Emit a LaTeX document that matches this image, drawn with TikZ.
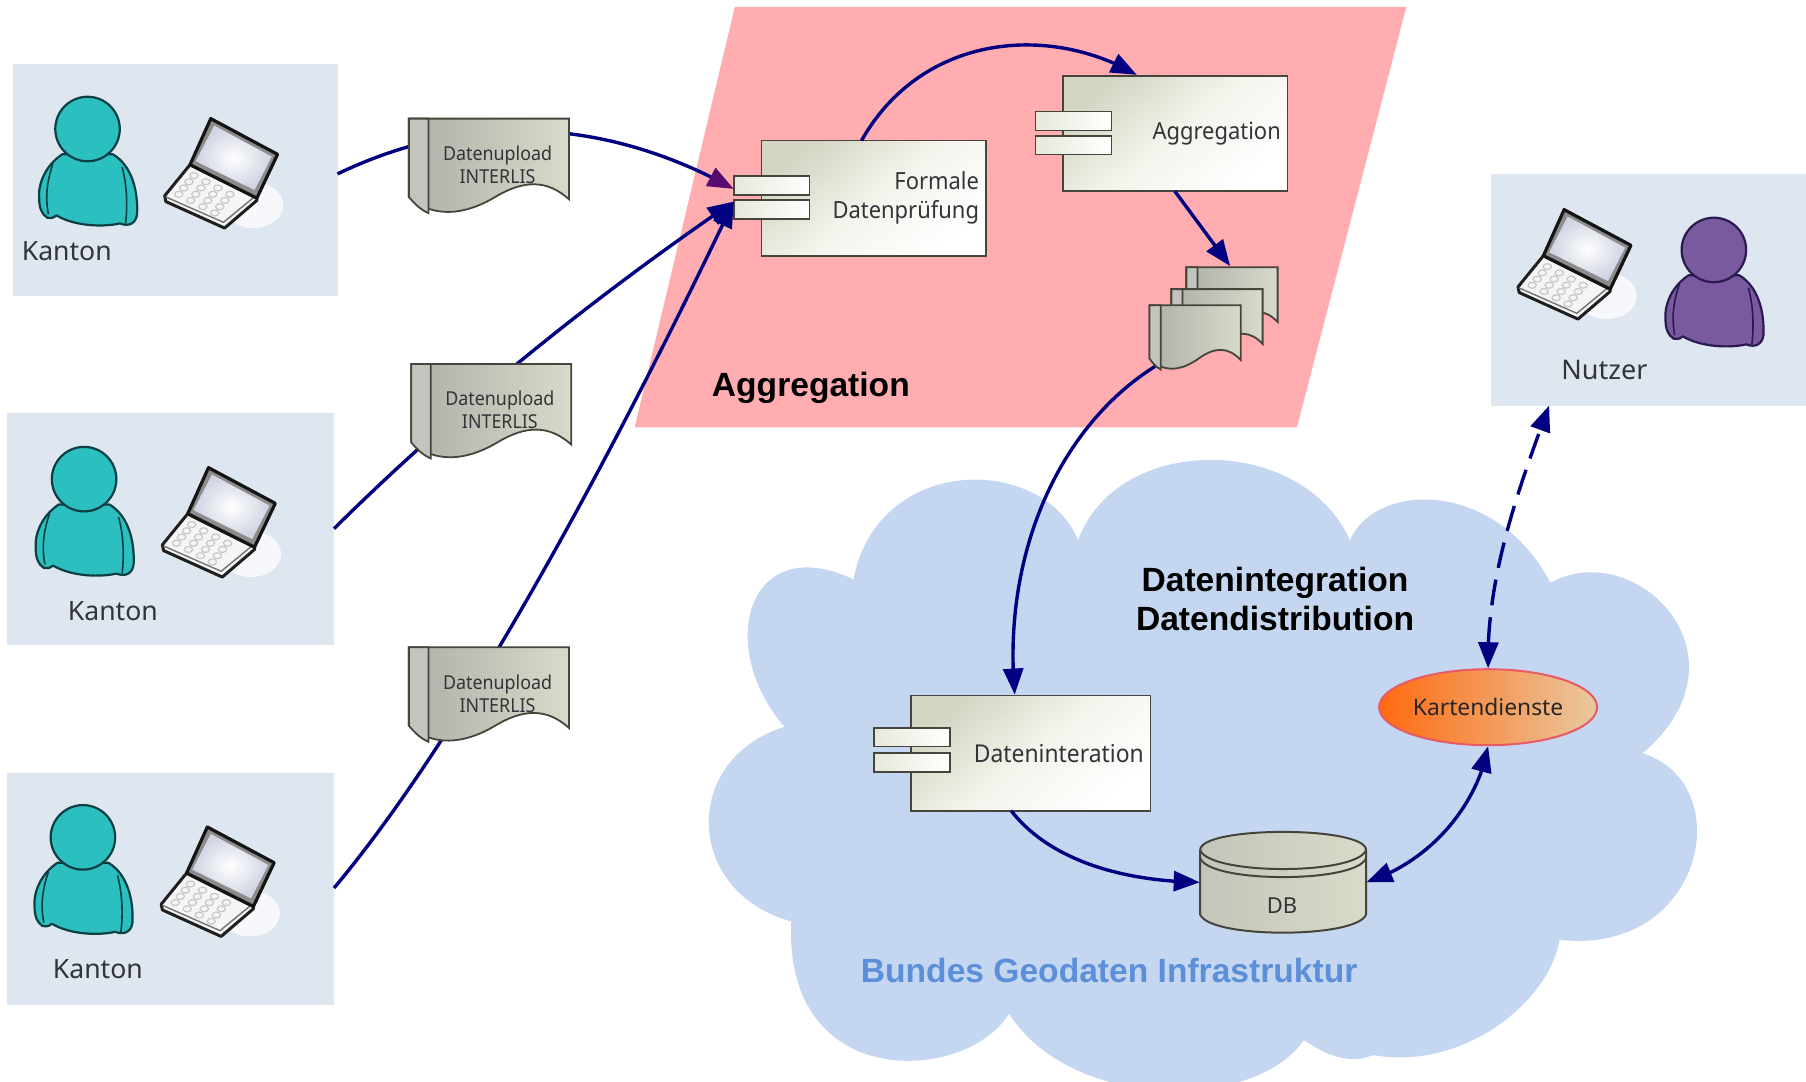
\documentclass[tikz,border=0pt]{standalone}
\usepackage{fontspec}
\setmainfont{Noto Sans}
\newfontfamily\condfont{Noto Sans}[FakeStretch=0.93]
\newfontfamily\boldhead{Liberation Sans}[Ligatures=TeX]
\usetikzlibrary{arrows.meta,shapes.geometric,bending}
\definecolor{navyline}{HTML}{000080}
\definecolor{boxblue}{HTML}{DEE6F0}
\definecolor{pinkarea}{HTML}{FFADB0}
\definecolor{cloudblue}{HTML}{C5D6F0}
\definecolor{edgegrey}{HTML}{45453C}
\definecolor{textgrey}{HTML}{333338}
\definecolor{compshade}{HTML}{D2D6C2}
\definecolor{compmid}{HTML}{F3F4EC}
\definecolor{portshade}{HTML}{E6E8DA}
\definecolor{screenblue}{HTML}{CFD3E2}
\definecolor{docdark}{HTML}{AEAFA8}
\definecolor{doclight}{HTML}{D8DACA}
\definecolor{docspine}{HTML}{C4C4BE}
\definecolor{dbdark}{HTML}{C4C5BA}
\definecolor{dblight}{HTML}{D9DBC8}
\definecolor{kaedge}{HTML}{E85A66}
\definecolor{kaleft}{HTML}{FF6A10}
\definecolor{karight}{HTML}{E9C8A0}
\definecolor{geoblue}{HTML}{5B8FD9}
\definecolor{purpletip}{HTML}{580A70}
\definecolor{tealfill}{HTML}{2CBFC0}
\definecolor{tealedge}{HTML}{0B3F44}
\definecolor{violetfill}{HTML}{7A5A9E}
\definecolor{violetedge}{HTML}{2A1A50}
\tikzset{
  area/.style={fill=boxblue,draw=none,inner sep=0pt,minimum height=116pt},
  lab/.style={text=textgrey,font=\fontsize{13.3}{15}\selectfont,inner sep=0pt},
  doclab/.style={text=textgrey,font=\condfont\fontsize{9.6}{11.5}\selectfont,align=center,inner sep=0pt},
  complab/.style={text=textgrey,font=\condfont\fontsize{11.8}{14.4}\selectfont,align=right,
    draw=edgegrey,line width=.8pt,top color=compshade,bottom color=white,middle color=compmid,shading angle=40,
    inner xsep=3.4pt,inner ysep=0pt,minimum height=57.6pt},
  port/.style={draw=edgegrey,line width=.8pt,left color=portshade,right color=white,
    minimum width=38pt,minimum height=9.4pt,inner sep=0pt},
  headlab/.style={font=\boldhead\bfseries\fontsize{16.8}{19.6}\selectfont,text=black,align=center,inner sep=0pt},
  conn/.style={draw=navyline,line width=1.7pt,-{Triangle[length=13pt,width=10pt,flex]}},
  conntwo/.style={draw=navyline,line width=1.7pt,{Triangle[length=13pt,width=10pt,flex]}-{Triangle[length=13pt,width=10pt,flex]}},
  pics/person/.style n args={2}{code={
    \path[fill=#1,draw=#2,line width=1.1pt,line join=round]
      (-22,22) .. controls (-37,32) and (-43,48) .. (-42,60)
      .. controls (-42,68) and (-40,74) .. (-35,77)
      .. controls (-30,78) and (-28,76) .. (-27,75)
      .. controls (-10,85) and (15,85) .. (28,82)
      .. controls (36,85) and (42,82) .. (43,74)
      .. controls (44,55) and (39,32) .. (22,22) -- cycle;
    \draw[#2,line width=.8pt] (-30,30) .. controls (-35,45) and (-37,58) .. (-34,74);
    \draw[#2,line width=.8pt] (30,33) .. controls (34,48) and (35,65) .. (33,82);
    \path[fill=#1,draw=#2,line width=1.1pt] (0,0) circle[x radius=28,y radius=28];
  }},
  pics/laptop/.style={code={
    \fill[white,opacity=.75] (30,28) circle[x radius=26,y radius=20];
    \path[fill=black!4,draw=black!88,line width=1.5pt,line join=round]
      (-25,-7) -- (-47,20) -- (-46,25) -- (5,48) -- (33,24) -- (33,22) -- cycle;
    \draw[black!55,line width=.7pt] (-46,21) -- (4,43) -- (32,20);
    \foreach \a in {.15,.35,.55,.75}{
      \foreach \b in {.2,.4,.6,.8}{
        \draw[black!22,line width=.6pt]
          ({-47+52*\a+22*\b},{20+27*\a-27*\b}) circle[x radius=3.6,y radius=2.6];
      }
    }
    \path[fill=black!45,draw=black!92,line width=1.6pt,line join=round]
      (-7,-47) -- (51,-16) -- (33,22) -- (-25,-7) -- cycle;
    \shade[inner color=white,outer color=screenblue]
      (-4,-41) -- (46,-14) -- (31,15) -- (-20,-10) -- cycle;
  }},
  pics/docsheet/.style={code={
    \path[draw=edgegrey,line width=.9pt,left color=docdark,right color=doclight]
      (0,0) -- (139,0) -- (139,70)
      .. controls (120,53) and (100,53) .. (75,68)
      .. controls (55,80) and (25,90) .. (0,68) -- cycle;
    \path[draw=edgegrey,line width=.9pt,fill=docspine]
      (0,0) -- (17,0) -- (17,82) .. controls (10,79) and (5,74) .. (0,68) -- cycle;
  }},
}
\begin{document}
\begin{tikzpicture}[x=0.576pt,y=-0.576pt]
\useasboundingbox (0,0) rectangle (1568,939);
% areas
\node[area,minimum width=162.4pt,anchor=north west] (k1) at (11,55) {};
\node[area,minimum width=163.6pt,anchor=north west] (k2) at (6,358) {};
\node[area,minimum width=163.6pt,anchor=north west] (k3) at (6,671) {};
\node[area,minimum width=157.8pt,anchor=north west] (nu) at (1294,151) {};
\fill[pinkarea] (638,6) -- (1221,6) -- (1126,371) -- (551,371) -- cycle;
% cloud
\fill[cloudblue]
  (741,503) .. controls (762,394) and (905,394) .. (936,469)
  .. controls (970,376) and (1130,376) .. (1172,469)
  .. controls (1195,417) and (1300,417) .. (1346,506)
  .. controls (1420,465) and (1525,570) .. (1426,654)
  .. controls (1510,680) and (1480,830) .. (1354,816)
  .. controls (1345,870) and (1270,930) .. (1192,916)
  .. controls (1170,925) and (1150,915) .. (1132,903)
  .. controls (1090,965) and (930,965) .. (876,880)
  .. controls (840,940) and (680,950) .. (687,800)
  .. controls (595,775) and (590,660) .. (681,631)
  .. controls (620,560) and (650,460) .. (741,503) -- cycle;
% people and laptops
\pic at (76,112) {person={tealfill}{tealedge}};
\pic at (73,416) {person={tealfill}{tealedge}};
\pic at (72,727) {person={tealfill}{tealedge}};
\pic at (1488,217) {person={violetfill}{violetedge}};
\pic at (190,150) {laptop};
\pic at (188,453) {laptop};
\pic at (187,765) {laptop};
\pic at (1365,229) {laptop};
\node[lab] (t1) at (58,218) {Kanton};
\node[lab] (t2) at (98,531) {Kanton};
\node[lab] (t3) at (85,841) {Kanton};
\node[lab,font=\fontsize{13.5}{15}\selectfont] (t4) at (1393,321) {Nutzer};
% components
\node[complab,text width=105.4pt] (c1) at (758.5,172) {Formale\\Datenprüfung};
\node[complab,text width=105.4pt] (c2) at (1020.5,116) {Aggregation};
\node[complab,text width=113pt,font=\condfont\fontsize{12.3}{14.4}\selectfont] (c3) at (895,654) {Dateninteration};
\node[port] (c1a) at (670,161) {};
\node[port] (c1b) at (670,182) {};
\node[port] (c2a) at (932,105) {};
\node[port] (c2b) at (932,126) {};
\node[port] (c3a) at (792,640) {};
\node[port] (c3b) at (792,662) {};
% data store and service
\path[draw=edgegrey,line width=1pt,left color=dbdark,right color=dblight]
  (1042,738) -- (1042,794) .. controls (1050,815) and (1178,815) .. (1186,794) -- (1186,738)
  .. controls (1186,717) and (1042,717) .. (1042,738) -- cycle;
\draw[edgegrey,line width=1pt] (1042,738) .. controls (1050,760) and (1178,760) .. (1186,738);
\draw[edgegrey,line width=1pt] (1042,745) .. controls (1050,767) and (1178,767) .. (1186,745);
\node[minimum width=83pt,minimum height=50.7pt,inner sep=0pt] (db) at (1114,766) {};
\node[doclab,font=\fontsize{11}{13}\selectfont] (dbt) at (1113,786) {DB};
\node[ellipse,draw=kaedge,line width=1pt,left color=kaleft,right color=karight,
  minimum width=109pt,minimum height=38pt,inner sep=0pt,text=black!85,
  font=\fontsize{11.4}{13}\selectfont] (ka) at (1292,614) {Kartendienste};
% connector ends
\coordinate (k1o) at (293,151);
\coordinate (k2o) at (290,459);
\coordinate (k3o) at (290,771);
\coordinate (c1in) at (637,164);
\coordinate (c1inb) at (637,175);
\coordinate (c1top) at (748,122);
\coordinate (c2top) at (987,65);
\coordinate (c2bot) at (1020,166);
\coordinate (stackt) at (1068,231);
\coordinate (stackb) at (1003,318);
\coordinate (c3top) at (881,603);
\coordinate (c3bot) at (878,704);
\coordinate (nuin) at (1345,352);
% connectors
\draw[conn,-{Triangle[length=13pt,width=10pt,flex,fill=purpletip,color=purpletip]}] (k1o) .. controls (420,90) and (540,110) .. (c1in);
\draw[conn] (k2o) .. controls (400,350) and (520,255) .. (c1inb);
\draw[conn] (k3o) .. controls (400,640) and (530,400) .. (c1inb);
\draw[conn] (c1top) .. controls (800,30) and (910,20) .. (c2top);
\draw[conn] (c2bot) -- (stackt);
\draw[conn] (stackb) .. controls (920,370) and (870,480) .. (c3top);
\draw[conn] (c3bot) .. controls (910,745) and (970,765) .. (db.west);
\draw[conntwo] (db.east) .. controls (1250,745) and (1285,690) .. (ka.south);
\draw[conntwo,dash pattern=on 13pt off 6pt] (ka.north) .. controls (1290,500) and (1320,420) .. (nuin);
% documents
\pic at (355,103) {docsheet};
\pic at (357,316) {docsheet};
\pic at (355,562) {docsheet};
\node[doclab] (d1) at (432,143) {Datenupload\\INTERLIS};
\node[doclab] (d2) at (434,356) {Datenupload\\INTERLIS};
\node[doclab] (d3) at (432,602) {Datenupload\\INTERLIS};
\pic[xscale=.57,yscale=.68] at (1030,232) {docsheet};
\pic[xscale=.57,yscale=.68] at (1017,251) {docsheet};
\pic[xscale=.57,yscale=.68] at (998,265) {docsheet};
% headings
\node[headlab] (h1) at (704,337) {Aggregation};
\node[headlab] (h2) at (1107,520) {Datenintegration\\Datendistribution};
\node[headlab,text=geoblue,font=\boldhead\bfseries\fontsize{16.8}{20}\selectfont] (h3) at (963,843) {Bundes Geodaten Infrastruktur};
\end{tikzpicture}
\end{document}
